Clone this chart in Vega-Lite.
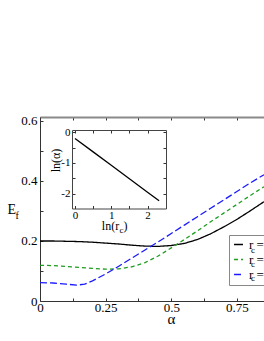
{
  "$schema": "https://vega.github.io/schema/vega-lite/v6.json",
  "width": 224,
  "height": 184,
  "autosize": {"type": "none"},
  "padding": {"left": 40, "top": 117, "right": 0, "bottom": 40},
  "background": "white",
  "config": {
    "view": {"stroke": null},
    "font": "Liberation Serif, Times New Roman, serif",
    "text": {"font": "Liberation Serif, Times New Roman, serif"},
    "legend": {"labelFont": "Liberation Serif, Times New Roman, serif"},
    "axis": {
      "grid": false,
      "labelFont": "Liberation Serif, Times New Roman, serif",
      "titleFont": "Liberation Serif, Times New Roman, serif",
      "labelColor": "#000",
      "titleColor": "#000",
      "titleFontWeight": "normal",
      "domainColor": "#333",
      "tickColor": "#333",
      "labelFlush": false,
      "labelOverlap": false
    }
  },
  "datasets": {
    "main": [
      {"rc": "2", "alpha": 0, "E": 0.200}, {"rc": "2", "alpha": 0.05, "E": 0.200}, {"rc": "2", "alpha": 0.1, "E": 0.199},
      {"rc": "2", "alpha": 0.15, "E": 0.198}, {"rc": "2", "alpha": 0.2, "E": 0.196}, {"rc": "2", "alpha": 0.25, "E": 0.193},
      {"rc": "2", "alpha": 0.3, "E": 0.190}, {"rc": "2", "alpha": 0.35, "E": 0.186}, {"rc": "2", "alpha": 0.4, "E": 0.183},
      {"rc": "2", "alpha": 0.45, "E": 0.182}, {"rc": "2", "alpha": 0.5, "E": 0.185}, {"rc": "2", "alpha": 0.55, "E": 0.192},
      {"rc": "2", "alpha": 0.6, "E": 0.205}, {"rc": "2", "alpha": 0.65, "E": 0.224}, {"rc": "2", "alpha": 0.7, "E": 0.247},
      {"rc": "2", "alpha": 0.75, "E": 0.272}, {"rc": "2", "alpha": 0.8, "E": 0.300}, {"rc": "2", "alpha": 0.8533, "E": 0.331},
      {"rc": "4", "alpha": 0, "E": 0.119}, {"rc": "4", "alpha": 0.05, "E": 0.118}, {"rc": "4", "alpha": 0.1, "E": 0.115},
      {"rc": "4", "alpha": 0.15, "E": 0.112}, {"rc": "4", "alpha": 0.2, "E": 0.109}, {"rc": "4", "alpha": 0.25, "E": 0.106},
      {"rc": "4", "alpha": 0.3, "E": 0.107}, {"rc": "4", "alpha": 0.35, "E": 0.114}, {"rc": "4", "alpha": 0.4, "E": 0.128},
      {"rc": "4", "alpha": 0.45, "E": 0.150}, {"rc": "4", "alpha": 0.5, "E": 0.177}, {"rc": "4", "alpha": 0.55, "E": 0.205},
      {"rc": "4", "alpha": 0.6, "E": 0.234}, {"rc": "4", "alpha": 0.65, "E": 0.264}, {"rc": "4", "alpha": 0.7, "E": 0.293},
      {"rc": "4", "alpha": 0.75, "E": 0.322}, {"rc": "4", "alpha": 0.8, "E": 0.351}, {"rc": "4", "alpha": 0.8533, "E": 0.381},
      {"rc": "8", "alpha": 0, "E": 0.061}, {"rc": "8", "alpha": 0.05, "E": 0.060}, {"rc": "8", "alpha": 0.1, "E": 0.056},
      {"rc": "8", "alpha": 0.14, "E": 0.053}, {"rc": "8", "alpha": 0.17, "E": 0.056}, {"rc": "8", "alpha": 0.2, "E": 0.067},
      {"rc": "8", "alpha": 0.25, "E": 0.090}, {"rc": "8", "alpha": 0.3, "E": 0.116}, {"rc": "8", "alpha": 0.35, "E": 0.143},
      {"rc": "8", "alpha": 0.4, "E": 0.170}, {"rc": "8", "alpha": 0.45, "E": 0.197}, {"rc": "8", "alpha": 0.5, "E": 0.225},
      {"rc": "8", "alpha": 0.55, "E": 0.253}, {"rc": "8", "alpha": 0.6, "E": 0.281}, {"rc": "8", "alpha": 0.65, "E": 0.309},
      {"rc": "8", "alpha": 0.7, "E": 0.337}, {"rc": "8", "alpha": 0.75, "E": 0.365}, {"rc": "8", "alpha": 0.8, "E": 0.393},
      {"rc": "8", "alpha": 0.8533, "E": 0.421}
    ],
    "inset": [
      {"lnr": 0, "lna": -0.20}, {"lnr": 0.5, "lna": -0.64}, {"lnr": 1.0, "lna": -1.08},
      {"lnr": 1.5, "lna": -1.52}, {"lnr": 2.0, "lna": -1.96}, {"lnr": 2.32, "lna": -2.24}
    ],
    "one": [{}]
  },
  "layer": [
    {
      "data": {"name": "main"},
      "mark": {"type": "line", "strokeWidth": 1.3},
      "encoding": {
        "x": {
          "field": "alpha", "type": "quantitative",
          "scale": {"domain": [0, 0.8533], "nice": false, "zero": false},
          "axis": {
            "orient": "bottom",
            "values": [0, 0.125, 0.25, 0.375, 0.5, 0.625, 0.75],
            "labelExpr": "abs(datum.value*4 - round(datum.value*4)) < 0.01 ? (datum.value == 0 ? '0' : format(datum.value, '.2~f')) : ''",
            "tickSize": -3, "labelPadding": 3, "labelFontSize": 13,
            "title": "α", "titleX": 131, "titleY": 22, "titleBaseline": "alphabetic", "titleFontSize": 15, "titleAnchor": "middle"
          }
        },
        "y": {
          "field": "E", "type": "quantitative",
          "scale": {"domain": [0, 0.6133], "nice": false, "zero": false},
          "axis": {
            "orient": "left",
            "values": [0, 0.1, 0.2, 0.3, 0.4, 0.5, 0.6],
            "labelExpr": "abs(datum.value*5 - round(datum.value*5)) < 0.01 ? (datum.value == 0 ? '0' : format(datum.value, '.1f')) : ''",
            "tickSize": -3, "labelPadding": 6, "labelFontSize": 13,
            "title": "E", "titleAngle": 0, "titleX": -33, "titleY": 96, "titleAlign": "left", "titleBaseline": "alphabetic", "titleFontSize": 14
          }
        },
        "color": {
          "field": "rc", "type": "nominal",
          "scale": {"domain": ["2", "4", "8"], "range": ["#000000", "#1f9c1f", "#1a1aff"]},
          "legend": {
            "orient": "none", "legendX": 189, "legendY": 118, "title": null,
            "symbolType": "stroke", "symbolSize": 80, "symbolStrokeWidth": 1.5,
            "labelFontSize": 13, "labelColor": "#000",
            "labelExpr": "'r   =' + datum.label",
            "strokeColor": "#888", "fillColor": null, "padding": 3, "rowPadding": 1, "labelOffset": 4
          }
        },
        "strokeDash": {
          "field": "rc", "type": "nominal",
          "scale": {"domain": ["2", "4", "8"], "range": [[1, 0], [4, 3], [7, 3]]},
          "legend": {
            "orient": "none", "legendX": 189, "legendY": 118, "title": null,
            "symbolType": "stroke", "symbolSize": 80, "symbolStrokeWidth": 1.5,
            "labelFontSize": 13, "labelColor": "#000",
            "labelExpr": "'r   =' + datum.label",
            "strokeColor": "#888", "fillColor": null, "padding": 3, "rowPadding": 1, "labelOffset": 4
          }
        }
      }
    },
    {
      "data": {"name": "main"},
      "mark": {"type": "line", "opacity": 0},
      "encoding": {
        "x": {
          "field": "alpha", "type": "quantitative",
          "scale": {"domain": [0, 0.8533], "nice": false, "zero": false},
          "axis": {"orient": "top", "values": [0, 0.125, 0.25, 0.375, 0.5, 0.625, 0.75], "labels": false, "tickSize": -3, "domainColor": "#8a8a8a", "domainWidth": 2, "title": null}
        },
        "y": {
          "field": "E", "type": "quantitative",
          "scale": {"domain": [0, 0.6133], "nice": false, "zero": false},
          "axis": null
        }
      }
    },
    {
      "data": {"name": "one"},
      "mark": {"type": "text", "text": "f", "align": "left", "baseline": "alphabetic", "fontSize": 10, "color": "#000"},
      "encoding": {
        "x": {"datum": -0.0933, "type": "quantitative", "scale": {"domain": [0, 0.8533], "nice": false, "zero": false}, "axis": null},
        "y": {"datum": 0.273, "type": "quantitative", "scale": {"domain": [0, 0.6133], "nice": false, "zero": false}, "axis": null}
      }
    },
    {
      "data": {"name": "one"},
      "mark": {"type": "text", "text": "c", "align": "left", "baseline": "alphabetic", "fontSize": 9, "color": "#000"},
      "encoding": {
        "x": {"datum": 0.804, "type": "quantitative", "scale": {"domain": [0, 0.8533], "nice": false, "zero": false}, "axis": null},
        "y": {"datum": 0.16, "type": "quantitative", "scale": {"domain": [0, 0.6133], "nice": false, "zero": false}, "axis": null}
      }
    },
    {
      "data": {"name": "one"},
      "mark": {"type": "text", "text": "c", "align": "left", "baseline": "alphabetic", "fontSize": 9, "color": "#000"},
      "encoding": {
        "x": {"datum": 0.804, "type": "quantitative", "scale": {"domain": [0, 0.8533], "nice": false, "zero": false}, "axis": null},
        "y": {"datum": 0.1133, "type": "quantitative", "scale": {"domain": [0, 0.6133], "nice": false, "zero": false}, "axis": null}
      }
    },
    {
      "data": {"name": "one"},
      "mark": {"type": "text", "text": "c", "align": "left", "baseline": "alphabetic", "fontSize": 9, "color": "#000"},
      "encoding": {
        "x": {"datum": 0.804, "type": "quantitative", "scale": {"domain": [0, 0.8533], "nice": false, "zero": false}, "axis": null},
        "y": {"datum": 0.0667, "type": "quantitative", "scale": {"domain": [0, 0.6133], "nice": false, "zero": false}, "axis": null}
      }
    },
    {
      "data": {"name": "inset"},
      "mark": {"type": "line", "strokeWidth": 1.3, "color": "#000"},
      "encoding": {
        "x": {
          "field": "lnr", "type": "quantitative",
          "scale": {"domain": [-0.083, 2.51], "range": [32, 126], "nice": false, "zero": false},
          "axis": {
            "orient": "bottom", "offset": -92.5,
            "values": [0, 0.5, 1, 1.5, 2],
            "labelExpr": "datum.value % 1 == 0 ? '' + datum.value : ''",
            "tickSize": -3, "labelPadding": 4, "labelFontSize": 11, "domainColor": "#444",
            "title": null
          }
        },
        "y": {
          "field": "lna", "type": "quantitative",
          "scale": {"domain": [-2.49, 0.075], "range": [91.5, 13], "nice": false, "zero": false},
          "axis": {
            "orient": "left", "offset": -32,
            "values": [-2, -1.5, -1, -0.5, 0],
            "labelExpr": "datum.value % 1 == 0 ? (datum.value < 0 ? '-' + abs(datum.value) : '' + datum.value) : ''",
            "tickSize": -3, "labelPadding": 5, "labelFontSize": 11, "domainColor": "#444",
            "title": "ln(α)", "titleAngle": 270, "titleX": -17, "titleY": 43, "titleAlign": "center", "titleBaseline": "middle", "titleFontSize": 12
          }
        }
      }
    },
    {
      "data": {"name": "inset"},
      "mark": {"type": "line", "opacity": 0},
      "encoding": {
        "x": {
          "field": "lnr", "type": "quantitative",
          "scale": {"domain": [-0.083, 2.51], "range": [32, 126], "nice": false, "zero": false},
          "axis": {"orient": "top", "offset": -13, "values": [0, 0.5, 1, 1.5, 2], "labels": false, "tickSize": -3, "domainColor": "#444", "title": null}
        },
        "y": {
          "field": "lna", "type": "quantitative",
          "scale": {"domain": [-2.49, 0.075], "range": [91.5, 13], "nice": false, "zero": false},
          "axis": {"orient": "right", "offset": -98, "values": [-2, -1.5, -1, -0.5, 0], "labels": false, "tickSize": -3, "domainColor": "#444", "title": null}
        }
      }
    },
    {
      "data": {"name": "one"},
      "mark": {"type": "text", "text": "ln(r", "align": "right", "baseline": "alphabetic", "fontSize": 12, "color": "#000"},
      "encoding": {
        "x": {"datum": 0.3017, "type": "quantitative", "scale": {"domain": [0, 0.8533], "nice": false, "zero": false}, "axis": null},
        "y": {"datum": 0.2367, "type": "quantitative", "scale": {"domain": [0, 0.6133], "nice": false, "zero": false}, "axis": null}
      }
    },
    {
      "data": {"name": "one"},
      "mark": {"type": "text", "text": "c", "align": "left", "baseline": "alphabetic", "fontSize": 9, "color": "#000"},
      "encoding": {
        "x": {"datum": 0.3025, "type": "quantitative", "scale": {"domain": [0, 0.8533], "nice": false, "zero": false}, "axis": null},
        "y": {"datum": 0.2267, "type": "quantitative", "scale": {"domain": [0, 0.6133], "nice": false, "zero": false}, "axis": null}
      }
    },
    {
      "data": {"name": "one"},
      "mark": {"type": "text", "text": ")", "align": "left", "baseline": "alphabetic", "fontSize": 12, "color": "#000"},
      "encoding": {
        "x": {"datum": 0.318, "type": "quantitative", "scale": {"domain": [0, 0.8533], "nice": false, "zero": false}, "axis": null},
        "y": {"datum": 0.2367, "type": "quantitative", "scale": {"domain": [0, 0.6133], "nice": false, "zero": false}, "axis": null}
      }
    }
  ],
  "resolve": {
    "scale": {"x": "independent", "y": "independent"},
    "axis": {"x": "independent", "y": "independent"}
  }
}
